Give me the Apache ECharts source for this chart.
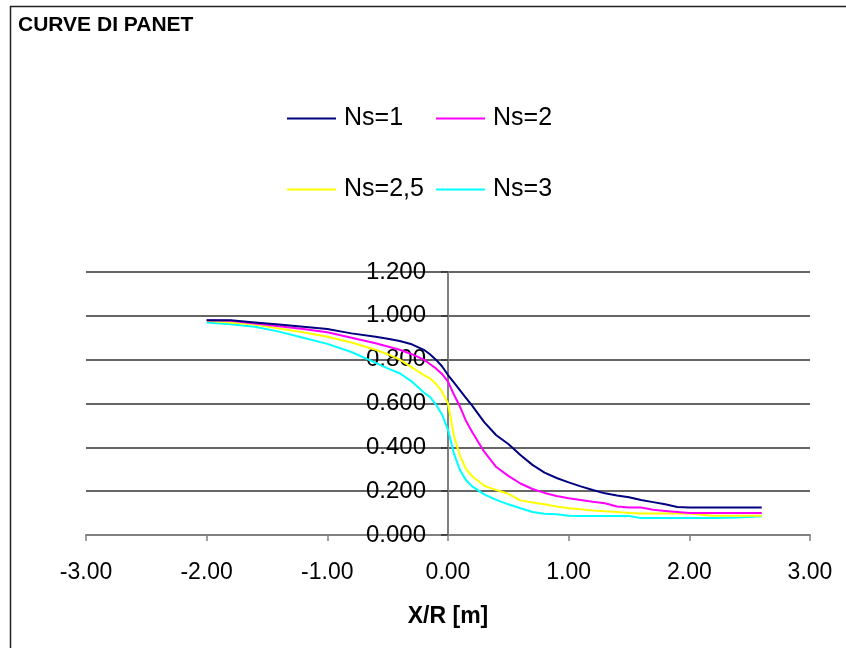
<!DOCTYPE html>
<html>
<head>
<meta charset="utf-8">
<script src="https://cdn.jsdelivr.net/npm/echarts@6/dist/echarts.min.js"></script>
<style>
html,body{margin:0;padding:0;background:#fff;}
#chart{width:846px;height:648px;}
</style>
</head>
<body>
<div id="chart"></div>
<script>
// X/R positions
const xValues = [-2.0,-1.8,-1.6,-1.4,-1.2,-1.0,-0.8,-0.6,-0.5,-0.4,-0.3,-0.2,-0.15,-0.1,-0.05,0,0.05,0.1,0.15,0.2,0.3,0.4,0.5,0.6,0.7,0.8,0.9,1.0,1.1,1.2,1.3,1.4,1.5,1.6,1.7,1.8,1.9,2.0,2.2,2.4,2.6];
const ns1  = [0.980,0.980,0.970,0.960,0.950,0.940,0.920,0.905,0.895,0.885,0.870,0.845,0.825,0.800,0.770,0.730,0.695,0.660,0.625,0.590,0.515,0.455,0.415,0.365,0.320,0.285,0.260,0.240,0.222,0.205,0.190,0.180,0.172,0.160,0.150,0.140,0.128,0.125,0.125,0.125,0.125];
const ns2  = [0.980,0.978,0.965,0.953,0.940,0.925,0.900,0.875,0.860,0.845,0.825,0.800,0.780,0.760,0.735,0.700,0.640,0.585,0.520,0.470,0.380,0.310,0.270,0.235,0.210,0.192,0.178,0.168,0.160,0.152,0.145,0.130,0.125,0.125,0.115,0.110,0.105,0.100,0.100,0.100,0.100];
const ns25 = [0.978,0.970,0.960,0.942,0.925,0.905,0.878,0.845,0.825,0.800,0.765,0.730,0.715,0.690,0.655,0.600,0.450,0.360,0.300,0.268,0.225,0.205,0.188,0.158,0.148,0.140,0.130,0.122,0.118,0.112,0.108,0.105,0.100,0.098,0.098,0.098,0.098,0.098,0.088,0.088,0.088];
const ns3  = [0.970,0.962,0.950,0.928,0.900,0.872,0.835,0.785,0.760,0.738,0.700,0.650,0.630,0.595,0.550,0.480,0.370,0.295,0.250,0.222,0.185,0.160,0.140,0.122,0.105,0.097,0.095,0.088,0.087,0.087,0.087,0.087,0.087,0.077,0.077,0.077,0.077,0.077,0.077,0.080,0.085];
const seriesNames = ['Ns=1','Ns=2','Ns=2,5','Ns=3'];
const seriesColors = ['#000080','#FF00FF','#FFFF00','#00FFFF'];
const seriesValues = [ns1, ns2, ns25, ns3];

const chart = echarts.init(document.getElementById('chart'), null, {renderer:'canvas'});
const fontMain = "'Liberation Sans', Arial, sans-serif";

const legendPos = [[287,106],[436,106],[287,177],[436,177]];
const legends = seriesNames.map((n,i)=>({
  data:[n], left:legendPos[i][0], top:legendPos[i][1], orient:'horizontal', padding:0,
  icon:'rect', itemWidth:49, itemHeight:2,
  textStyle:{fontFamily:fontMain, fontSize:25, color:'#000', padding:[0,0,0,3]},
  selectedMode:false
}));

chart.setOption({
  animation:false,
  backgroundColor:'#fff',
  title:{text:'CURVE DI PANET', left:18, top:15, padding:0,
    textStyle:{fontFamily:fontMain, fontWeight:'bold', fontSize:21, color:'#000'}},
  legend:legends,
  grid:{left:86, right:36, top:272, bottom:113, containLabel:false},
  xAxis:{type:'value', min:-3, max:3, interval:1,
    name:'X/R [m]', nameLocation:'middle', nameGap:70,
    nameTextStyle:{fontFamily:fontMain, fontWeight:'bold', fontSize:23, color:'#000'},
    axisLine:{onZero:false, lineStyle:{color:'#808080', width:2}},
    axisTick:{show:true, inside:false, length:6, lineStyle:{color:'#808080', width:1.5}},
    axisLabel:{margin:26, fontFamily:fontMain, fontSize:23, color:'#000',
      formatter:v=>v.toFixed(2)},
    splitLine:{show:false}
  },
  yAxis:{type:'value', min:0, max:1.2, interval:0.2,
    axisLine:{show:true, onZero:true, lineStyle:{color:'#808080', width:2}},
    axisTick:{show:true, inside:false, length:7, lineStyle:{color:'#333', width:1.5}},
    axisLabel:{margin:-340, fontFamily:fontMain, fontSize:24, color:'#000',
      formatter:v=>v.toFixed(3)},
    splitLine:{show:true, lineStyle:{color:'#333', width:1.5}}
  },
  series:seriesValues.map((vals,i)=>({
    name:seriesNames[i], type:'line', showSymbol:false, symbol:'none',
    data:xValues.map((x,j)=>[x, vals[j]]),
    lineStyle:{color:seriesColors[i], width:2},
    itemStyle:{color:seriesColors[i]},
    z:10-i
  })),
  graphic:[{type:'rect', left:8, top:4, shape:{x:0,y:0,width:860,height:660},
    style:{fill:'none', stroke:'#222', lineWidth:1.5}, silent:true}]
});
</script>
</body>
</html>
